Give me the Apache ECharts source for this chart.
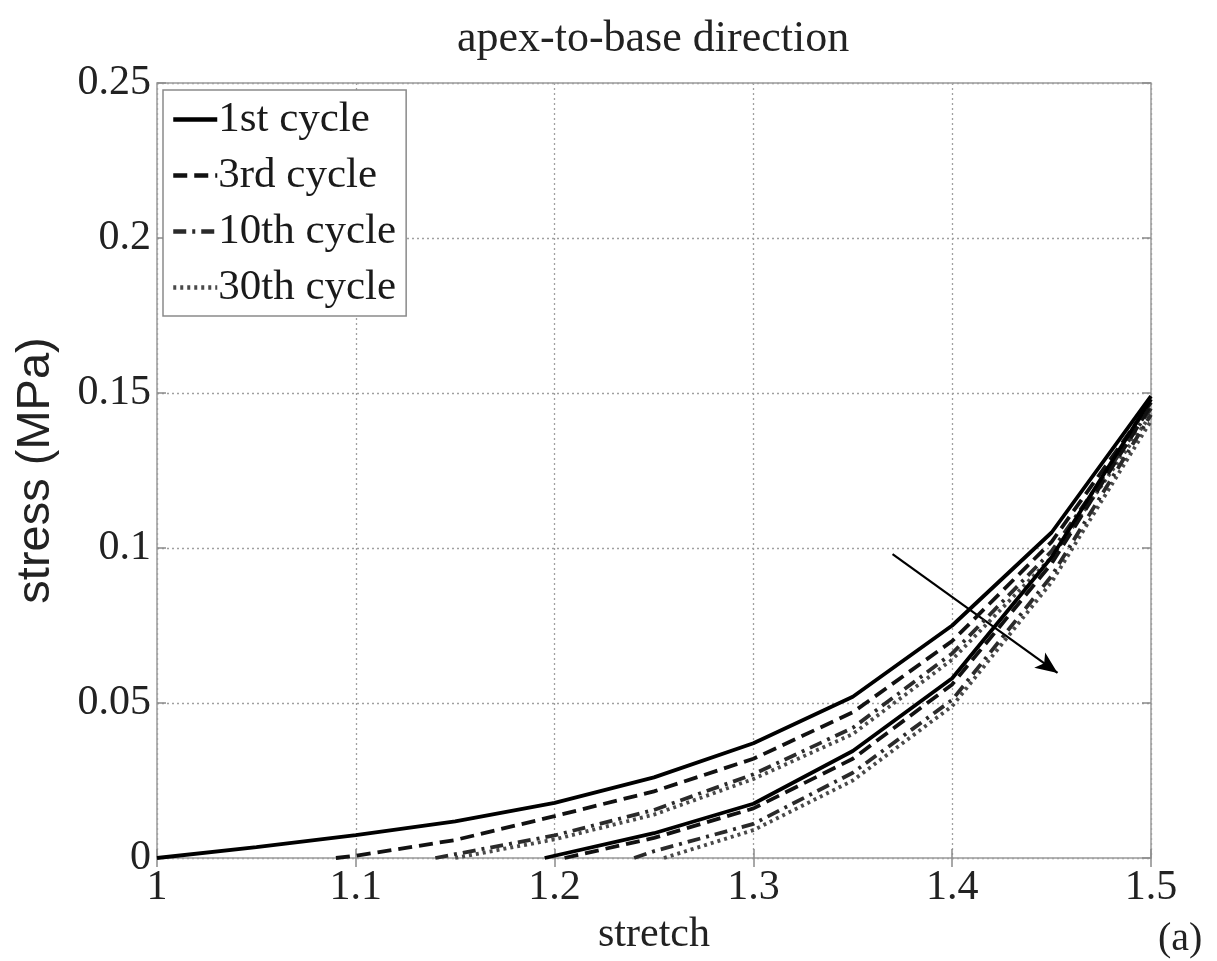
<!DOCTYPE html>
<html>
<head>
<meta charset="utf-8">
<script src="https://cdn.jsdelivr.net/npm/echarts@6/dist/echarts.min.js"></script>
<style>
  html, body { margin: 0; padding: 0; background: #ffffff; }
  #chart { width: 1217px; height: 961px; }
</style>
</head>
<body>
<div id="chart"></div>
<script>
// Tick values
const xTicks = [1, 1.1, 1.2, 1.3, 1.4, 1.5];
const yTicks = [0, 0.05, 0.1, 0.15, 0.2, 0.25];

// Cycle names shown in the legend
const cycleNames = ['1st cycle', '3rd cycle', '10th cycle', '30th cycle'];

// Loading branches (stretch, stress in MPa)
const load1Stretch  = [1.0, 1.05, 1.1, 1.15, 1.2, 1.25, 1.3, 1.35, 1.4, 1.45, 1.5];
const load1Stress   = [0, 0.0035, 0.0074, 0.0118, 0.0178, 0.026, 0.037, 0.052, 0.075, 0.105, 0.149];
const load3Stretch  = [1.09, 1.1, 1.15, 1.2, 1.25, 1.3, 1.35, 1.4, 1.45, 1.5];
const load3Stress   = [0, 0.0007, 0.0058, 0.0135, 0.0215, 0.032, 0.047, 0.070, 0.102, 0.147];
const load10Stretch = [1.14, 1.2, 1.25, 1.3, 1.35, 1.4, 1.45, 1.5];
const load10Stress  = [0, 0.0073, 0.0155, 0.027, 0.042, 0.066, 0.099, 0.145];
const load30Stretch = [1.15, 1.2, 1.25, 1.3, 1.35, 1.4, 1.45, 1.5];
const load30Stress  = [0, 0.006, 0.014, 0.0255, 0.040, 0.064, 0.097, 0.143];

// Unloading branches (stretch, stress in MPa)
const unload1Stretch  = [1.195, 1.25, 1.3, 1.35, 1.4, 1.45, 1.5];
const unload1Stress   = [0, 0.008, 0.0175, 0.0345, 0.058, 0.097, 0.148];
const unload3Stretch  = [1.205, 1.25, 1.3, 1.35, 1.4, 1.45, 1.5];
const unload3Stress   = [0, 0.0065, 0.016, 0.032, 0.056, 0.095, 0.146];
const unload10Stretch = [1.24, 1.25, 1.3, 1.35, 1.4, 1.45, 1.5];
const unload10Stress  = [0, 0.0022, 0.011, 0.0275, 0.051, 0.091, 0.143];
const unload30Stretch = [1.255, 1.3, 1.35, 1.4, 1.45, 1.5];
const unload30Stress  = [0, 0.009, 0.025, 0.049, 0.089, 0.141];

// Arrow showing the trend with increasing cycle count
const arrowStretch = [1.37, 1.453];
const arrowStress  = [0.098, 0.0597];

const FONT = 'Liberation Serif';

function zip(xs, ys) { return xs.map((x, i) => [x, ys[i]]); }

const styles = [
  { color: '#000000', type: 'solid' },
  { color: '#111111', type: [14, 7] },
  { color: '#2a2a2a', type: [13, 6, 3, 6] },
  { color: '#4a4a4a', type: [3, 4] }
];

const branches = [
  [load1Stretch, load1Stress, unload1Stretch, unload1Stress],
  [load3Stretch, load3Stress, unload3Stretch, unload3Stress],
  [load10Stretch, load10Stress, unload10Stretch, unload10Stress],
  [load30Stretch, load30Stress, unload30Stretch, unload30Stress]
];

const series = [];
branches.forEach((b, i) => {
  [[b[0], b[1]], [b[2], b[3]]].forEach(pair => {
    series.push({
      name: cycleNames[i],
      type: 'line',
      data: zip(pair[0], pair[1]),
      symbol: 'none',
      smooth: false,
      z: 10 - i,
      lineStyle: { color: styles[i].color, width: 3.8, type: styles[i].type },
      itemStyle: { color: styles[i].color }
    });
  });
});

series.push({
  name: 'trend',
  type: 'line',
  data: [],
  symbol: 'none',
  markLine: {
    silent: true,
    symbol: ['none', 'arrow'],
    symbolSize: [14, 22],
    label: { show: false },
    lineStyle: { color: '#000', width: 2.2, type: 'solid' },
    data: [[
      { coord: [arrowStretch[0], arrowStress[0]] },
      { coord: [arrowStretch[1], arrowStress[1]] }
    ]]
  }
});

const gridLine = { show: true, lineStyle: { color: '#a0a0a0', width: 1.3, type: [2, 3] } };
const tickStyle = { inside: true, length: 9, lineStyle: { color: '#8c8c8c', width: 1.5 } };

const option = {
  backgroundColor: '#ffffff',
  animation: false,
  title: {
    text: 'apex-to-base direction',
    left: 452,
    top: 12,
    textStyle: { fontFamily: FONT, fontSize: 44, fontWeight: 'normal', color: '#222' }
  },
  grid: {
    left: 157, right: 66, top: 83, bottom: 101,
    show: true, borderColor: '#9a9a9a', borderWidth: 1.5
  },
  legend: {
    data: cycleNames,
    orient: 'vertical',
    left: 163, top: 90,
    backgroundColor: '#ffffff',
    borderColor: '#8a8a8a', borderWidth: 1.5,
    padding: [8, 10, 7, 8],
    itemWidth: 44, itemHeight: 14, itemGap: 13,
    itemStyle: { opacity: 0, borderWidth: 0 },
    lineStyle: { width: 4.5 },
    textStyle: { fontFamily: FONT, fontSize: 43, color: '#1a1a1a', padding: [0, 0, 0, -4] }
  },
  xAxis: [{
    type: 'value', min: 1, max: 1.5, interval: 0.1,
    name: 'stretch', nameLocation: 'middle', nameGap: 56,
    nameTextStyle: { fontFamily: FONT, fontSize: 42, color: '#222' },
    axisLine: { show: false },
    axisTick: tickStyle,
    splitLine: gridLine,
    axisLabel: { fontFamily: FONT, fontSize: 42, color: '#222', margin: 9,
                 formatter: v => String(+v.toFixed(2)) }
  }, {
    type: 'value', min: 1, max: 1.5, interval: 0.1, position: 'top',
    axisLine: { show: false }, axisTick: tickStyle, axisLabel: { show: false }, splitLine: { show: false }
  }],
  yAxis: [{
    type: 'value', min: 0, max: 0.25, interval: 0.05,
    name: 'stress (MPa)', nameLocation: 'middle', nameGap: 97,
    nameTextStyle: { fontFamily: 'Liberation Sans', fontSize: 47, color: '#222' },
    axisLine: { show: false },
    axisTick: tickStyle,
    splitLine: gridLine,
    axisLabel: { fontFamily: FONT, fontSize: 42, color: '#222', margin: 6,
                 formatter: v => String(+v.toFixed(2)) }
  }, {
    type: 'value', min: 0, max: 0.25, interval: 0.05, position: 'right',
    axisLine: { show: false }, axisTick: tickStyle, axisLabel: { show: false }, splitLine: { show: false }
  }],
  graphic: [{
    type: 'text', left: 1158, top: 919,
    style: { text: '(a)', font: '40px "Liberation Serif"', fill: '#222' }
  }],
  series: series
};

const chart = echarts.init(document.getElementById('chart'), null, { renderer: 'canvas' });
chart.setOption(option);
</script>
</body>
</html>
